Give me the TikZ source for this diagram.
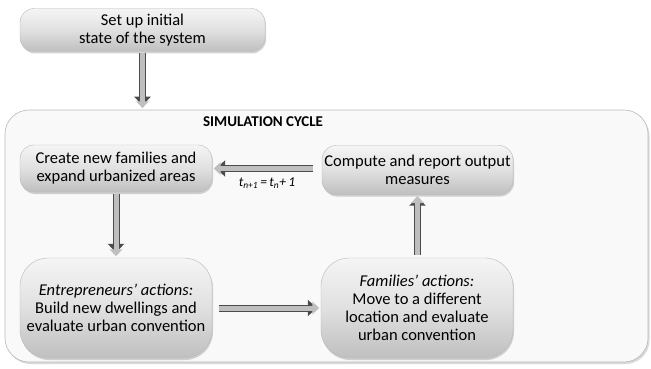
\documentclass[tikz,border=0pt]{standalone}
\usepackage{fontspec}
\setmainfont{Carlito}
\usetikzlibrary{arrows.meta,shadows,calc}
\begin{document}
\begin{tikzpicture}[x=1pt,y=-1pt,
  box/.style={rounded corners=#1, top color=gray!8, bottom color=gray!50,
    middle color=gray!24, draw=gray!55, line width=0.4pt,
    drop shadow={opacity=0.35, shadow xshift=1pt, shadow yshift=-2pt},
    align=center, font=\fontsize{16.5}{18}\selectfont, inner sep=0pt},
  box/.default=14pt,
  outerbox/.style={rounded corners=24pt, fill=gray!5, draw=gray!55, line width=0.6pt,
    drop shadow={opacity=0.3, shadow xshift=1.5pt, shadow yshift=-2pt}},
  blockarrow/.style={draw=gray!60!black, line width=7pt,
    -{Triangle[length=9pt,width=16pt]},
    postaction={draw=gray!50, line width=5pt, shorten >=1.6pt,
      -{Triangle[length=6.8pt,width=12.5pt]}}}
]
\useasboundingbox (0,0) rectangle (651,369);
% outer simulation cycle box
\node[outerbox, minimum width=643pt, minimum height=252pt, inner sep=0pt] (outer) at (326.5,236) {};
\node[font=\fontsize{15}{17}\selectfont\bfseries] (title) at (263,122) {SIMULATION CYCLE};
% boxes
\node[box, minimum width=245pt, minimum height=43pt] (setup) at (142.5,30)
  {Set up initial\\state of the system};
\node[box, minimum width=192pt, minimum height=47pt] (create) at (116,168.5)
  {Create new families and\\expand urbanized areas};
\node[box, minimum width=191pt, minimum height=49pt] (compute) at (417.5,170)
  {Compute and report output\\measures};
\node[box=28pt, minimum width=192pt, minimum height=100pt] (entre) at (116,308)
  {\itshape Entrepreneurs’ actions:\\Build new dwellings and\\evaluate urban convention};
\node[box=28pt, minimum width=192pt, minimum height=100pt] (families) at (417,308)
  {\itshape Families’ actions:\\Move to a different\\location and evaluate\\urban convention};
% arrows
\coordinate (setupend) at (setup.south |- outer.north);
\draw[blockarrow, shorten <=1pt, shorten >=4pt] (setup.south) -- (setupend);
\draw[blockarrow, shorten <=2pt, shorten >=5pt] (create.south) -- (entre.north);
\draw[blockarrow, shorten <=3pt, shorten >=2pt] (families.north -| compute.south) -- (compute.south);
\draw[blockarrow, shorten <=9pt, shorten >=4pt] (compute.west |- create.east) -- (create.east);
\draw[blockarrow, shorten <=7pt, shorten >=4pt] (entre.east) -- (families.west);
\node[font=\fontsize{13.5}{16}\selectfont\itshape] (tlabel) at (267,183) {t\textsubscript{n+1}\,=\,t\textsubscript{n}+\,1};
\end{tikzpicture}
\end{document}
